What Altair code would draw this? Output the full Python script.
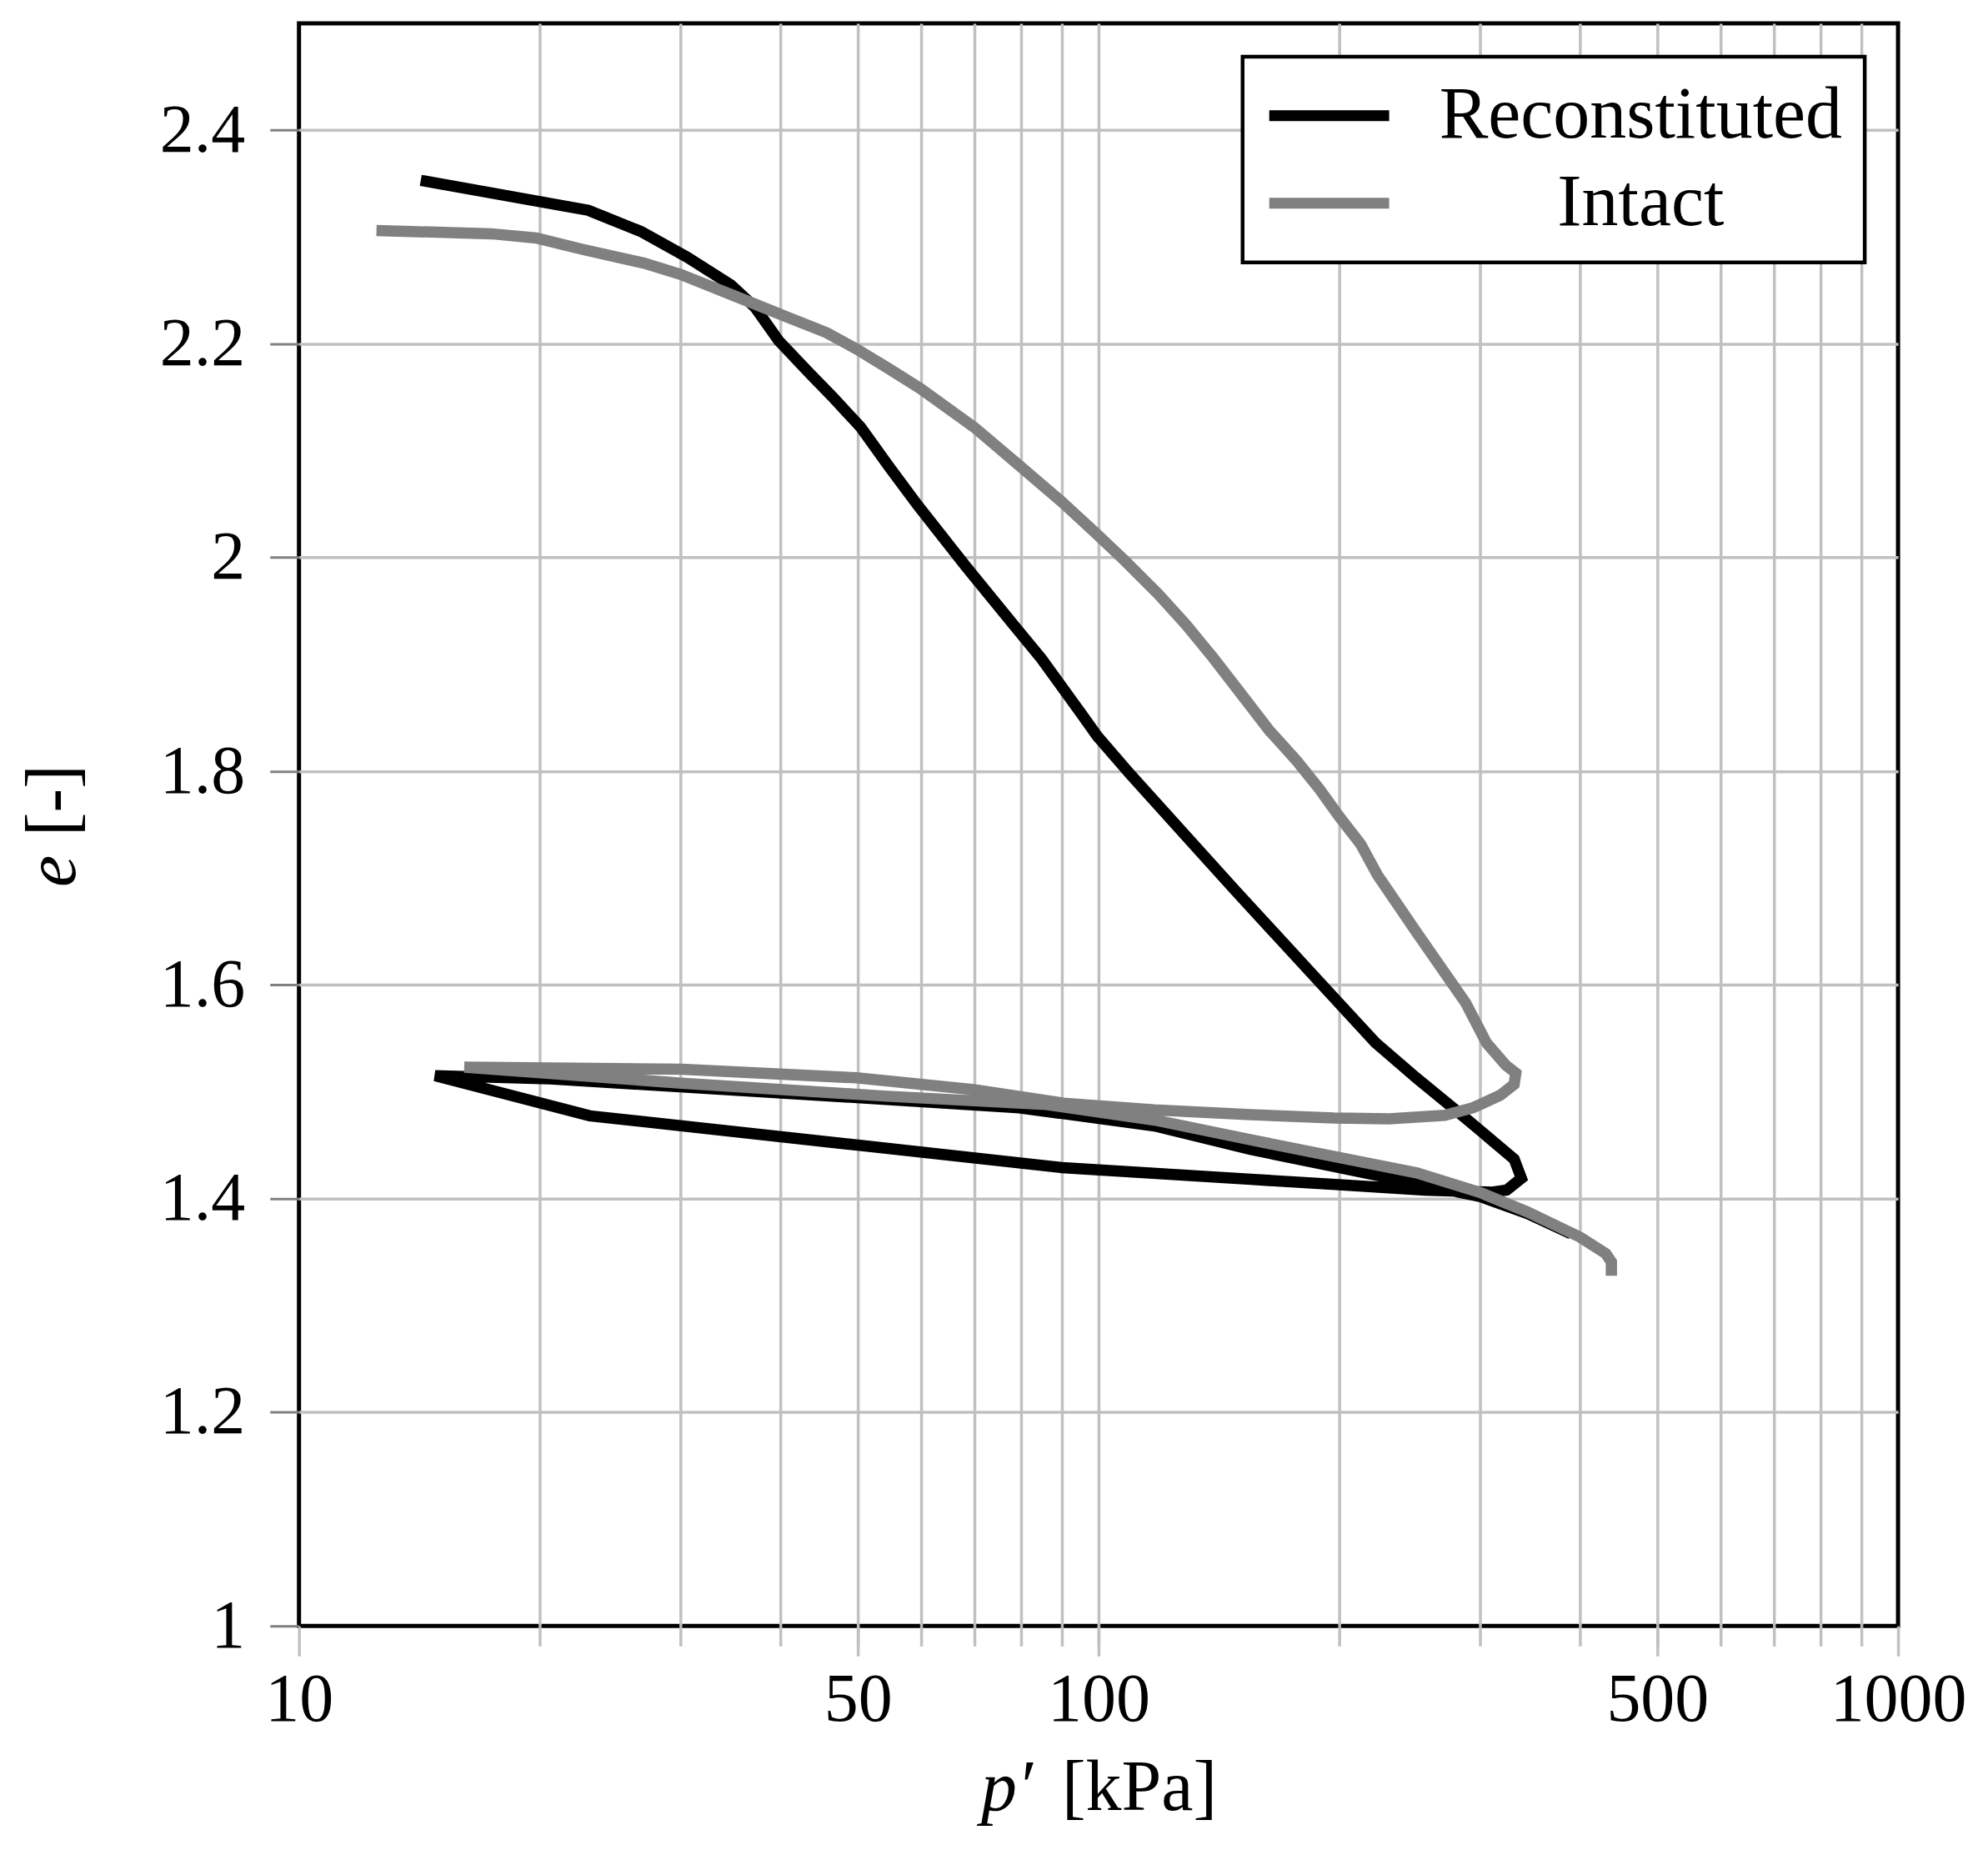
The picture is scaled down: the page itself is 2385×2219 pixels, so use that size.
import altair as alt
import pandas as pd

# ---- data ----
series_names = ["Reconstituted", "Intact"]
series_colors = ["#000000", "#808080"]

rec_p = [14.2, 23.0, 26.8, 30.6, 34.7, 37.2, 39.8, 43.3, 46.4, 50.4, 54.7, 59.4, 68.2, 78.3,
         84.9, 94.9, 99.6, 109.6, 148.4, 192.6, 222, 249.7, 288, 331, 338, 324, 311, 256, 200, 155, 90,
         50, 23.1, 14.8, 20.6, 53.8, 79.6, 117.5, 155, 197, 250, 300, 344, 390]
rec_e = [2.353, 2.325, 2.305, 2.281, 2.255, 2.234, 2.203, 2.174, 2.151, 2.122, 2.085, 2.049, 1.992, 1.937,
         1.905, 1.855, 1.833, 1.797, 1.688, 1.596, 1.546, 1.513, 1.475, 1.437, 1.419, 1.408, 1.406, 1.408, 1.413,
         1.418, 1.429, 1.450, 1.4775, 1.515, 1.512, 1.493, 1.485, 1.468, 1.446, 1.430, 1.414, 1.402, 1.386, 1.367]

int_p = [12.5, 17.4, 19.8, 22.6, 27.0, 30.0, 35.2, 40.9, 45.7, 49.9, 54.7, 59.9, 69.9, 79.8,
         90.0, 99.6, 107.9, 118.8, 128.7, 139.2, 150.9, 163.5, 177, 188.8, 200, 212.8, 223.2, 250,
         288, 305.5, 323, 332.6, 331, 318, 294, 271, 231, 197, 155, 117.5, 91, 69.8, 49.8, 30.1,
         16.1, 30.1, 53.8, 86, 117.5, 155, 197, 250, 300, 344, 400, 431, 438, 438]
int_e = [2.306, 2.303, 2.299, 2.2885, 2.2755, 2.265, 2.2443, 2.2247, 2.2104, 2.1948, 2.1766, 2.158, 2.1219, 2.0854,
         2.052, 2.0216, 1.9969, 1.9657, 1.937, 1.9059, 1.872, 1.8382, 1.8096, 1.7836, 1.7576, 1.7316, 1.703, 1.649,
         1.583, 1.546, 1.525, 1.5175, 1.507, 1.4967, 1.485, 1.478, 1.4746, 1.4754, 1.4785, 1.483, 1.489, 1.502,
         1.513, 1.521, 1.523, 1.508, 1.496, 1.488, 1.4735, 1.455, 1.4395, 1.424, 1.4057, 1.3875, 1.364, 1.3485,
         1.3407, 1.3277]

x_grid_values = [20, 30, 40, 50, 60, 70, 80, 90, 100, 200, 300, 400, 500, 600, 700, 800, 900]
x_label_values = [10, 50, 100, 500, 1000]
y_values = [1.0, 1.2, 1.4, 1.6, 1.8, 2.0, 2.2, 2.4]

df = pd.concat([
    pd.DataFrame({"series": series_names[0], "order": list(range(len(rec_p))), "p": rec_p, "e": rec_e}),
    pd.DataFrame({"series": series_names[1], "order": list(range(len(int_p))), "p": int_p, "e": int_e}),
], ignore_index=True)

W, H = 1920, 1924
FONT = "Liberation Serif"
GRID = "#c0c0c0"
LW = 13.5

xscale = alt.Scale(type="log", domain=[10, 1000], nice=False)
yscale = alt.Scale(domain=[1, 2.5], nice=False, zero=False)

yaxis = alt.Axis(values=y_values, format="~g", grid=True, gridColor=GRID, gridWidth=3.5,
                 gridOpacity={"condition": {"test": "datum.value <= 1.0001", "value": 0}, "value": 1},
                 tickSize=35, tickColor="#808080", tickWidth=3, domain=False, title=None,
                 labelFont=FONT, labelFontSize=82, labelColor="black", labelPadding=30)

xaxis_minor = alt.Axis(values=x_grid_values, labels=False, grid=True, gridColor=GRID, gridWidth=3.5,
                       tickSize=24, tickColor=GRID, tickWidth=3.5, domain=False, title=None,
                       orient="bottom")
xaxis_major = alt.Axis(values=x_label_values, format="d", grid=False, tickSize=36, tickColor=GRID,
                       tickWidth=3.5, domain=False, title=None, orient="bottom",
                       labelFont=FONT, labelFontSize=82, labelColor="black", labelPadding=12,
                       labelFlush=False, labelOverlap=False)

color = alt.Color("series:N",
                  scale=alt.Scale(domain=series_names, range=series_colors),
                  legend=alt.Legend(title=None, orient="top-right", offset=40))

base = alt.Chart(df)
rec = base.transform_filter(alt.datum.series == series_names[0]).mark_line(strokeWidth=LW).encode(
    x=alt.X("p:Q", scale=xscale, axis=xaxis_minor),
    y=alt.Y("e:Q", scale=yscale, axis=yaxis),
    color=color,
    order="order:Q",
)
intact = base.transform_filter(alt.datum.series == series_names[1]).mark_line(strokeWidth=LW).encode(
    x=alt.X("p:Q", scale=xscale, axis=xaxis_major),
    y=alt.Y("e:Q", scale=yscale, axis=yaxis),
    color=color,
    order="order:Q",
)

TS = 86
xt1 = alt.Chart().mark_text(text="p′", font=FONT, fontSize=TS, fontStyle="italic", align="left",
                            baseline="alphabetic", color="black").encode(x=alt.value(819), y=alt.value(2145))
xt2 = alt.Chart().mark_text(text="[kPa]", font=FONT, fontSize=TS, align="left",
                            baseline="alphabetic", color="black").encode(x=alt.value(916), y=alt.value(2145))
yt1 = alt.Chart().mark_text(text="e", font=FONT, fontSize=TS, fontStyle="italic", align="left", angle=270,
                            baseline="alphabetic", color="black").encode(x=alt.value(-269), y=alt.value(1037))
yt2 = alt.Chart().mark_text(text="[-]", font=FONT, fontSize=TS, align="left", angle=270,
                            baseline="alphabetic", color="black").encode(x=alt.value(-269), y=alt.value(976))

chart = alt.layer(rec, intact, xt1, xt2, yt1, yt2).resolve_axis(x="independent").properties(
    width=W, height=H,
    autosize=alt.AutoSizeParams(type="none"),
    padding={"left": 351, "top": 19, "right": 100, "bottom": 260},
).configure_view(stroke="black", strokeWidth=5).configure_legend(
    strokeColor="black", strokeWidth=4.5, fillColor="white", padding=27, rowPadding=17,
    labelFont=FONT, labelFontSize=88, labelColor="black", labelAlign="center", labelOffset=330,
    labelLimit=0, symbolType="M-3,0H3", symbolSize=2304, symbolStrokeWidth=13, symbolOffset=33,
)

chart.save("out.html", embed_options={"renderer": "svg", "actions": False})
